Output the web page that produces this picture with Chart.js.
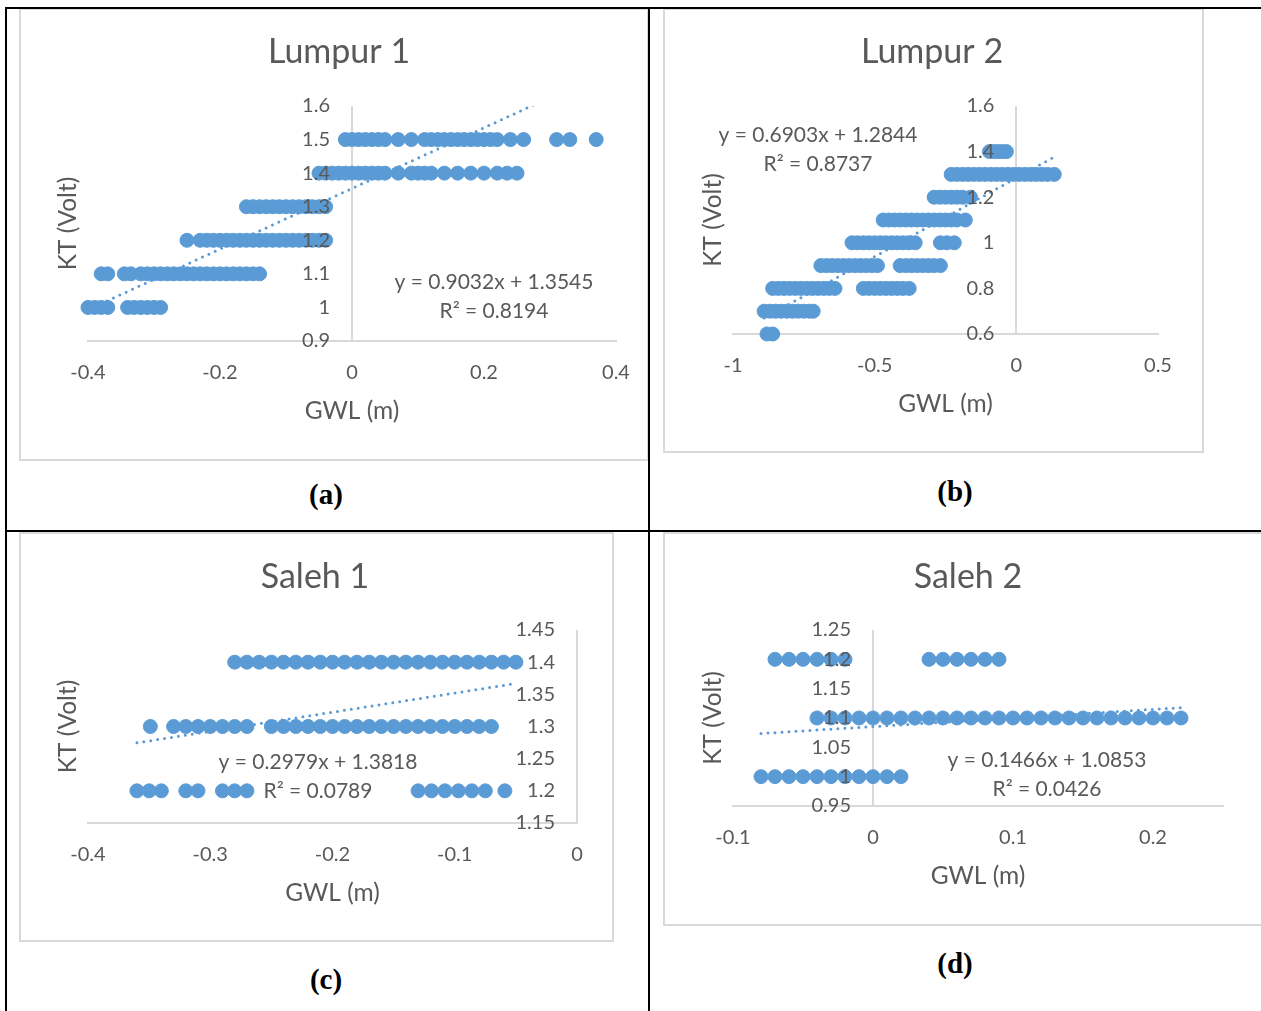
<!DOCTYPE html>
<html><head><meta charset="utf-8">
<script src="https://cdn.jsdelivr.net/npm/chart.js@4.4.1/dist/chart.umd.min.js"></script>
<style>
html,body{margin:0;padding:0;background:#fff;}
body{width:1261px;height:1011px;position:relative;overflow:hidden;}
.frame{position:absolute;border:2px solid #D9D9D9;box-sizing:border-box;background:#fff;}
canvas{position:absolute;}
.line{position:absolute;background:#000;z-index:5;}
.cap{position:absolute;font-family:"Liberation Serif","Times New Roman",serif;font-weight:bold;font-size:29px;transform:translate(-50%,-50%);white-space:nowrap;color:#000;}
</style></head><body>
<div class="frame" style="left:19px;top:8px;width:630px;height:453px"></div>
<div class="frame" style="left:663px;top:8px;width:541px;height:445px"></div>
<div class="frame" style="left:19px;top:532px;width:595px;height:410px"></div>
<div class="frame" style="left:663px;top:532px;width:610px;height:394px"></div>
<canvas id="ca"></canvas><canvas id="cb"></canvas><canvas id="cc"></canvas><canvas id="cd"></canvas>
<div class="line" style="left:5px;top:7px;width:1256px;height:2px"></div>
<div class="line" style="left:5px;top:7px;width:2px;height:1004px"></div>
<div class="line" style="left:648px;top:7px;width:2px;height:1004px"></div>
<div class="line" style="left:5px;top:530px;width:1256px;height:2px"></div>
<div class="cap" style="left:326px;top:494px">(a)</div>
<div class="cap" style="left:955px;top:491px">(b)</div>
<div class="cap" style="left:326px;top:979px">(c)</div>
<div class="cap" style="left:955px;top:963px">(d)</div>
<script>
// ---------- DATA ----------
// (a) Lumpur 1
const lumpur1KT = [1.5, 1.4, 1.3, 1.2, 1.1, 1.0];
const lumpur1GWL = [
  [-0.01,0,0.01,0.02,0.03,0.04,0.05,0.07,0.09,0.11,0.12,0.13,0.14,0.15,0.16,0.17,0.18,0.19,0.2,0.21,0.22,0.24,0.26,0.31,0.33,0.37],
  [-0.05,-0.04,-0.03,-0.02,-0.01,0,0.01,0.02,0.03,0.04,0.05,0.07,0.09,0.1,0.11,0.12,0.14,0.16,0.18,0.2,0.22,0.235,0.25],
  [-0.16,-0.15,-0.14,-0.13,-0.12,-0.11,-0.1,-0.09,-0.08,-0.07,-0.06,-0.05,-0.04],
  [-0.25,-0.23,-0.22,-0.21,-0.2,-0.19,-0.18,-0.17,-0.16,-0.15,-0.14,-0.13,-0.12,-0.11,-0.1,-0.09,-0.08,-0.07,-0.06,-0.05,-0.04],
  [-0.38,-0.37,-0.345,-0.335,-0.32,-0.31,-0.3,-0.29,-0.28,-0.27,-0.26,-0.25,-0.24,-0.23,-0.22,-0.21,-0.2,-0.19,-0.18,-0.17,-0.16,-0.15,-0.14],
  [-0.4,-0.39,-0.38,-0.37,-0.34,-0.33,-0.32,-0.31,-0.3,-0.29]
];
const lumpur1TrendX = [-0.40, 0.37];          // y = 0.9032x + 1.3545
const lumpur1TrendY = [0.9932, 1.6887];
const lumpur1Eq = ['y = 0.9032x + 1.3545', 'R² = 0.8194'];

// (b) Lumpur 2
const lumpur2KT = [1.4, 1.3, 1.2, 1.1, 1.0, 0.9, 0.8, 0.7, 0.6];
const lumpur2GWL = [
  [-0.095,-0.08,-0.065,-0.05,-0.035],
  [-0.23,-0.21,-0.19,-0.17,-0.15,-0.13,-0.11,-0.09,-0.07,-0.05,-0.03,-0.01,0.01,0.03,0.05,0.07,0.09,0.11,0.134],
  [-0.29,-0.27,-0.25,-0.23,-0.21,-0.19,-0.162],
  [-0.47,-0.45,-0.43,-0.41,-0.39,-0.37,-0.35,-0.33,-0.31,-0.29,-0.27,-0.25,-0.23,-0.21,-0.18],
  [-0.58,-0.56,-0.54,-0.52,-0.5,-0.48,-0.46,-0.44,-0.42,-0.4,-0.38,-0.357,-0.268,-0.245,-0.219],
  [-0.69,-0.67,-0.65,-0.63,-0.61,-0.59,-0.57,-0.55,-0.53,-0.51,-0.49,-0.41,-0.39,-0.37,-0.35,-0.33,-0.31,-0.29,-0.268],
  [-0.86,-0.84,-0.82,-0.8,-0.78,-0.76,-0.74,-0.72,-0.7,-0.68,-0.66,-0.64,-0.54,-0.52,-0.5,-0.48,-0.46,-0.44,-0.42,-0.4,-0.378],
  [-0.89,-0.87,-0.85,-0.83,-0.81,-0.79,-0.77,-0.75,-0.73,-0.717],
  [-0.88,-0.86]
];
const lumpur2TrendX = [-0.89, 0.134];         // y = 0.6903x + 1.2844
const lumpur2TrendY = [0.6700, 1.3769];
const lumpur2Eq = ['y = 0.6903x + 1.2844', 'R² = 0.8737'];

// (c) Saleh 1
const saleh1KT = [1.4, 1.3, 1.2];
const saleh1GWL = [
  [-0.28,-0.27,-0.26,-0.25,-0.24,-0.23,-0.22,-0.21,-0.2,-0.19,-0.18,-0.17,-0.16,-0.15,-0.14,-0.13,-0.12,-0.11,-0.1,-0.09,-0.08,-0.07,-0.06,-0.05],
  [-0.349,-0.33,-0.32,-0.31,-0.3,-0.29,-0.28,-0.27,-0.25,-0.24,-0.23,-0.22,-0.21,-0.2,-0.19,-0.18,-0.17,-0.16,-0.15,-0.14,-0.13,-0.12,-0.11,-0.1,-0.09,-0.08,-0.07],
  [-0.36,-0.35,-0.34,-0.32,-0.31,-0.29,-0.28,-0.27,-0.13,-0.119,-0.108,-0.097,-0.086,-0.075,-0.059]
];
const saleh1TrendX = [-0.36, -0.05];          // y = 0.2979x + 1.3818
const saleh1TrendY = [1.2746, 1.3669];
const saleh1Eq = ['y = 0.2979x + 1.3818', 'R² = 0.0789'];

// (d) Saleh 2
const saleh2KT = [1.2, 1.1, 1.0];
const saleh2GWL = [
  [-0.07,-0.06,-0.05,-0.04,-0.03,-0.02,0.04,0.05,0.06,0.07,0.08,0.09],
  [-0.04,-0.03,-0.02,-0.01,0,0.01,0.02,0.03,0.04,0.05,0.06,0.07,0.08,0.09,0.1,0.11,0.12,0.13,0.14,0.15,0.16,0.17,0.18,0.19,0.2,0.21,0.22],
  [-0.08,-0.07,-0.06,-0.05,-0.04,-0.03,-0.02,-0.01,0,0.01,0.02]
];
const saleh2TrendX = [-0.08, 0.22];           // y = 0.1466x + 1.0853
const saleh2TrendY = [1.0736, 1.1176];
const saleh2Eq = ['y = 0.1466x + 1.0853', 'R² = 0.0426'];

const xTitle = 'GWL (m)';
const yTitle = 'KT (Volt)';

// ---------- DRAWING ----------
const FONT = 'Lato, "Open Sans", sans-serif';
const TXT = '#595959';
const BLUE = '#5B9BD5';
const AXIS = '#D9D9D9';
const fmt = v => String(Math.round(v * 1000) / 1000);

const eqPlugin = {
  id: 'eqLabel',
  afterDatasetsDraw(chart, args, o) {
    const ctx = chart.ctx;
    ctx.save();
    ctx.font = o.size + 'px ' + FONT;
    ctx.fillStyle = TXT;
    ctx.textAlign = 'center';
    ctx.textBaseline = 'middle';
    o.lines.forEach((t, i) => ctx.fillText(t, o.x, o.y + i * o.gap));
    ctx.restore();
  }
};
Chart.register(eqPlugin);

function makeChart(id, s) {
  const c = s.canvas, p = s.plot;
  c.w = 2 * (s.titleX - c.left);              // title centred on the canvas
  const cv = document.getElementById(id);
  cv.width = c.w; cv.height = c.h;
  cv.style.left = c.left + 'px'; cv.style.top = c.top + 'px';
  const plotL = p.l - c.left, plotT = p.t - c.top, plotR = p.r - c.left, plotB = p.b - c.top;
  const TF = 34, AF = 24.5, KF = 20, EF = 21, XH = 100;
  const titleLH = TF * 1.2, axLH = AF * 1.2, tickLH = KF * 1.2;
  const titlePadTop = (s.titleY - c.top) - titleLH / 2;
  const titlePadBottom = plotT - titlePadTop - titleLH;
  const pts = [];
  s.kt.forEach((k, i) => s.gwl[i].forEach(g => pts.push({x: g, y: k})));
  const gapVal = 22 * (s.x.max - s.x.min) / (p.r - p.l);
  new Chart(cv, {
    type: 'scatter',
    data: { datasets: [
      { type: 'line', data: s.trendX.map((x, i) => ({x: x, y: s.trendY[i]})), borderColor: BLUE, borderWidth: 3,
        borderDash: [0, 7], borderCapStyle: 'round', pointRadius: 0, fill: false, order: 0, xAxisID: 'x', yAxisID: 'y' },
      { data: pts, backgroundColor: BLUE, borderColor: BLUE, borderWidth: 1, pointRadius: 7, clip: false,
        order: 1, xAxisID: 'x', yAxisID: 'y' }
    ]},
    options: {
      responsive: false, animation: false, events: [],
      layout: { padding: { left: 0, top: 0, right: 0, bottom: c.h - plotB - XH } },
      plugins: {
        legend: { display: false }, tooltip: { enabled: false },
        title: { display: true, text: s.title, color: TXT, font: { family: FONT, size: TF, weight: 'normal' },
                 padding: { top: titlePadTop, bottom: titlePadBottom } },
        eqLabel: { lines: s.eq, x: s.eqX - c.left, y: s.eqY - c.top, gap: 29, size: EF }
      },
      scales: {
        x: { type: 'linear', position: 'bottom', min: s.x.min, max: s.x.max,
             ticks: { stepSize: s.x.step, includeBounds: false, color: TXT, font: { family: FONT, size: KF },
                      padding: 32 - tickLH / 2, maxRotation: 0, autoSkip: false, callback: fmt },
             grid: { drawTicks: false, lineWidth: 2,
                     color: ctx => (ctx.tick && Math.abs(ctx.tick.value) < 1e-9) ? AXIS : 'rgba(0,0,0,0)' },
             border: { display: true, color: AXIS, width: 2 },
             title: { display: true, text: xTitle, color: TXT, font: { family: FONT, size: AF },
                      padding: { top: 0, bottom: 30 - axLH / 2 } },
             afterFit: sc => { sc.height = XH; } },
        yt: { type: 'linear', axis: 'y', position: 'left',
              ticks: { display: false }, grid: { display: false }, border: { display: false },
              title: { display: true, text: yTitle, color: TXT, font: { family: FONT, size: AF },
                       padding: { top: (s.yTitleX - c.left) - axLH / 2, bottom: 0 } },
              afterFit: sc => { sc.width = plotL; } },
        yr: { type: 'linear', axis: 'y', position: 'right',
              ticks: { display: false }, grid: { display: false }, border: { display: false },
              afterFit: sc => { sc.width = c.w - plotR; } },
        y: { type: 'linear', position: { x: -gapVal }, min: s.y.min, max: s.y.max,
             ticks: { stepSize: s.y.step, includeBounds: false, color: TXT, font: { family: FONT, size: KF },
                      padding: 0, autoSkip: false, callback: fmt, z: 1 },
             grid: { display: false, drawTicks: false }, border: { display: false } }
      }
    }
  });
}

makeChart('ca', { title: 'Lumpur 1', kt: lumpur1KT, gwl: lumpur1GWL, trendX: lumpur1TrendX, trendY: lumpur1TrendY, eq: lumpur1Eq,
  x: { min: -0.4, max: 0.4, step: 0.2 }, y: { min: 0.9, max: 1.6, step: 0.1 },
  canvas: { left: 20, top: 10, h: 449 }, plot: { l: 88, t: 106, r: 616, b: 341 },
  titleX: 339, titleY: 52, yTitleX: 68, eqX: 494, eqY: 282 });
makeChart('cb', { title: 'Lumpur 2', kt: lumpur2KT, gwl: lumpur2GWL, trendX: lumpur2TrendX, trendY: lumpur2TrendY, eq: lumpur2Eq,
  x: { min: -1, max: 0.5, step: 0.5 }, y: { min: 0.6, max: 1.6, step: 0.2 },
  canvas: { left: 664, top: 10, h: 441 }, plot: { l: 733, t: 106, r: 1158, b: 334 },
  titleX: 932, titleY: 52, yTitleX: 713, eqX: 818, eqY: 135 });
makeChart('cc', { title: 'Saleh 1', kt: saleh1KT, gwl: saleh1GWL, trendX: saleh1TrendX, trendY: saleh1TrendY, eq: saleh1Eq,
  x: { min: -0.4, max: 0, step: 0.1 }, y: { min: 1.15, max: 1.45, step: 0.05 },
  canvas: { left: 20, top: 534, h: 406 }, plot: { l: 88, t: 630, r: 577, b: 823 },
  titleX: 315, titleY: 577, yTitleX: 68, eqX: 318, eqY: 762 });
makeChart('cd', { title: 'Saleh 2', kt: saleh2KT, gwl: saleh2GWL, trendX: saleh2TrendX, trendY: saleh2TrendY, eq: saleh2Eq,
  x: { min: -0.1, max: 0.25, step: 0.1 }, y: { min: 0.95, max: 1.25, step: 0.05 },
  canvas: { left: 664, top: 534, h: 390 }, plot: { l: 733, t: 630, r: 1223, b: 806 },
  titleX: 968, titleY: 577, yTitleX: 713, eqX: 1047, eqY: 760 });
</script>
</body></html>
